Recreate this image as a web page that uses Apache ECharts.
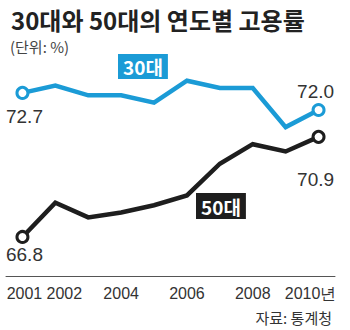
<!DOCTYPE html>
<html>
<head>
<meta charset="utf-8">
<script src="https://cdn.jsdelivr.net/npm/echarts@6/dist/echarts.min.js"></script>
<style>
html,body{margin:0;padding:0;background:#fff;}
#c{width:350px;height:330px;}
</style>
</head>
<body>
<div id="c"></div>
<script>
var years = ['2001','2002','2003','2004','2005','2006','2007','2008','2009','2010'];
var tickLabels = ['2001','2002','','2004','','2006','','2008','','2010년'];
var age30 = [72.7, 73.0, 72.6, 72.6, 72.3, 73.2, 72.9, 72.9, 71.3, 72.0];
var age50 = [66.8, 68.2, 67.6, 67.8, 68.1, 68.5, 69.8, 70.6, 70.3, 70.9];

var blue = '#1b9bd6';
var dark = '#1e1e1e';
var numFont = 'Liberation Sans';
var tickFont = 'Liberation Sans';
var krFont = 'Noto Sans CJK KR';

function buildData(vals, color, labelCfg) {
  return vals.map(function (v, i) {
    var item = { value: v, symbol: 'none' };
    if (i === 0 || i === vals.length - 1) {
      item.symbol = 'circle';
      var cfg = labelCfg[i === 0 ? 0 : 1];
      item.label = {
        show: true,
        position: cfg.position,
        distance: cfg.distance,
        offset: cfg.offset,
        formatter: function (p) { return p.value.toFixed(1); },
        fontFamily: numFont,
        fontSize: 19,
        color: '#333'
      };
    }
    return item;
  });
}

var tickRich = {
  a: { fontFamily: tickFont, fontSize: 16, color: '#333', padding: [0, 0, 0, 4] },
  b: { fontFamily: tickFont, fontSize: 16, color: '#333', padding: [0, 0, 0, 18] },
  e: { fontFamily: tickFont, fontSize: 16, color: '#333', padding: [0, 16, 0, 0] }
};

var chart = echarts.init(document.getElementById('c'), null, { renderer: 'svg' });
chart.setOption({
  animation: false,
  backgroundColor: '#fff',
  title: [
    { text: '30대와 50대의 연도별 고용률', left: 6, top: 2,
      textStyle: { fontFamily: krFont, fontSize: 24, fontWeight: 'bold', color: '#222' } },
    { text: '(단위: %)', left: 5, top: 34,
      textStyle: { fontFamily: krFont, fontSize: 15, fontWeight: 'normal', color: '#444' } },
    { text: '자료: 통계청', right: 13, top: 305,
      textStyle: { fontFamily: krFont, fontSize: 15, fontWeight: 'normal', color: '#333' } },
    { text: '30대', left: 118, top: 54, backgroundColor: blue, padding: [2, 5, 2, 5],
      textStyle: { fontFamily: krFont, fontSize: 19, fontWeight: 'bold', color: '#fff', lineHeight: 21 } },
    { text: '50대', left: 196, top: 193, backgroundColor: dark, padding: [2, 5, 2, 5],
      textStyle: { fontFamily: krFont, fontSize: 19, fontWeight: 'bold', color: '#fff', lineHeight: 22 } }
  ],
  grid: { left: 6, right: 15, top: 56.3, bottom: 54 },
  xAxis: {
    type: 'category',
    data: years,
    boundaryGap: true,
    axisLine: { lineStyle: { color: '#555', width: 1 } },
    axisTick: {
      alignWithLabel: true,
      length: 6,
      lineStyle: { color: '#555' },
      interval: function (i) { return tickLabels[i] !== ''; }
    },
    axisLabel: {
      interval: 0,
      margin: 9,
      fontFamily: tickFont,
      fontSize: 16,
      color: '#333',
      formatter: function (v, i) {
        var t = tickLabels[i];
        if (t === '') return '';
        if (i === 0) return '{a|' + t + '}';
        if (i === 1) return '{b|' + t + '}';
        if (i === years.length - 1) return '{e|' + t + '}';
        return t;
      },
      rich: tickRich
    },
    splitLine: { show: false }
  },
  yAxis: {
    type: 'value',
    show: false,
    min: 65.2,
    max: 74.2,
    splitLine: { show: false }
  },
  series: [
    {
      name: '30대',
      type: 'line',
      data: buildData(age30, blue, [
        { position: 'bottom', distance: 7, offset: [2, 0] },
        { position: 'top', distance: 2, offset: [-3, 0] }
      ]),
      symbolSize: 11,
      lineStyle: { color: blue, width: 4.5, join: 'miter' },
      itemStyle: { color: '#fff', borderColor: blue, borderWidth: 3 },
      z: 3
    },
    {
      name: '50대',
      type: 'line',
      data: buildData(age50, dark, [
        { position: 'bottom', distance: 1, offset: [2, 0] },
        { position: 'bottom', distance: 26, offset: [-3, 0] }
      ]),
      symbolSize: 11,
      lineStyle: { color: dark, width: 4.5, join: 'miter' },
      itemStyle: { color: '#fff', borderColor: dark, borderWidth: 3 },
      z: 3
    }
  ]
});
</script>
</body>
</html>
